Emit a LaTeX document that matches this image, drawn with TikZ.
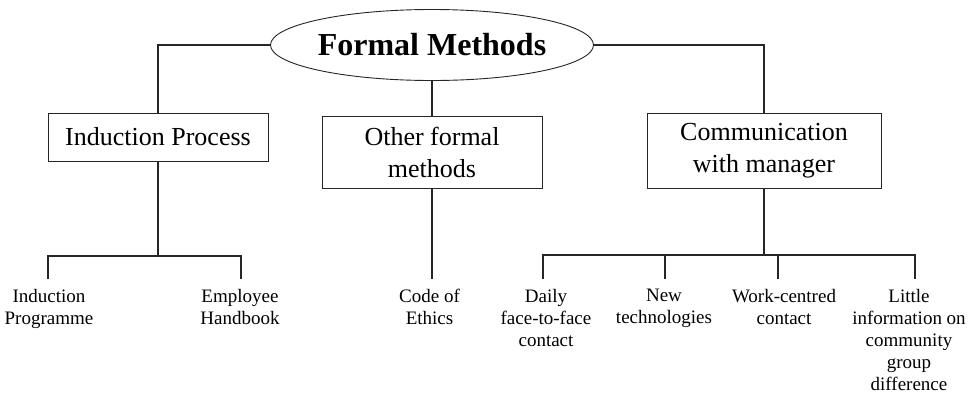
\documentclass[tikz,border=0pt]{standalone}
\usepackage{fontspec}
\setmainfont{Liberation Serif}
\usetikzlibrary{shapes.geometric}
\begin{document}
\begin{tikzpicture}[x=1pt,y=-1pt,
  conn/.style={line width=1.1pt,draw=black!85},
  boxnode/.style={draw=black!85,line width=1pt,rectangle,inner sep=0pt,align=center,
     font=\fontsize{26}{32}\selectfont},
  leaf/.style={anchor=north,inner sep=0pt,align=center,font=\fontsize{19}{22}\selectfont}]
\useasboundingbox (0,0) rectangle (977,394);
\node[ellipse,draw=black!85,line width=0.9pt,minimum width=316,minimum height=71,inner sep=0pt,
  font=\fontsize{32}{36}\bfseries\selectfont] (fm) at (432,45) {Formal Methods};
\node[boxnode,minimum width=220,minimum height=48] (ind) at (158,137) {Induction Process};
\node[boxnode,minimum width=220,minimum height=72] (oth) at (432,152) {Other formal\\methods};
\node[boxnode,minimum width=234,minimum height=75] (com) at (764,150.5) {Communication\\with manager};
\node[leaf] (ip) at (49,289) {Induction\\Programme};
\node[leaf] (hb) at (240,289) {Employee\\Handbook};
\node[leaf] (ce) at (429.5,289) {Code of\\Ethics};
\node[leaf] (df) at (546,289) {Daily\\face-to-face\\contact};
\node[leaf] (nt) at (664,289) {New\\technologies};
\node[leaf] (wc) at (784,289) {Work-centred\\contact};
\node[leaf] (li) at (909,289) {Little\\information on\\community\\group\\difference};
\coordinate (indJ) at (158,256);
\coordinate (comJ) at (764,255);
\coordinate (ipT) at (48,279);
\coordinate (hbT) at (241,279);
\coordinate (ceT) at (432,279);
\coordinate (dfT) at (543,279);
\coordinate (ntT) at (665,279);
\coordinate (wcT) at (778,279);
\coordinate (liT) at (915,279);
\draw[conn] (fm.west) -| (ind.north);
\draw[conn] (fm.south) -- (oth.north);
\draw[conn] (fm.east) -| (com.north);
\draw[conn] (ind.south) -- (indJ);
\draw[conn] (ipT) |- (indJ) -| (hbT);
\draw[conn] (oth.south) -- (ceT);
\draw[conn] (com.south) -- (comJ);
\draw[conn] (dfT) |- (comJ) -| (liT);
\draw[conn] (ntT) -- (ntT |- comJ);
\draw[conn] (wcT) -- (wcT |- comJ);
\end{tikzpicture}
\end{document}
